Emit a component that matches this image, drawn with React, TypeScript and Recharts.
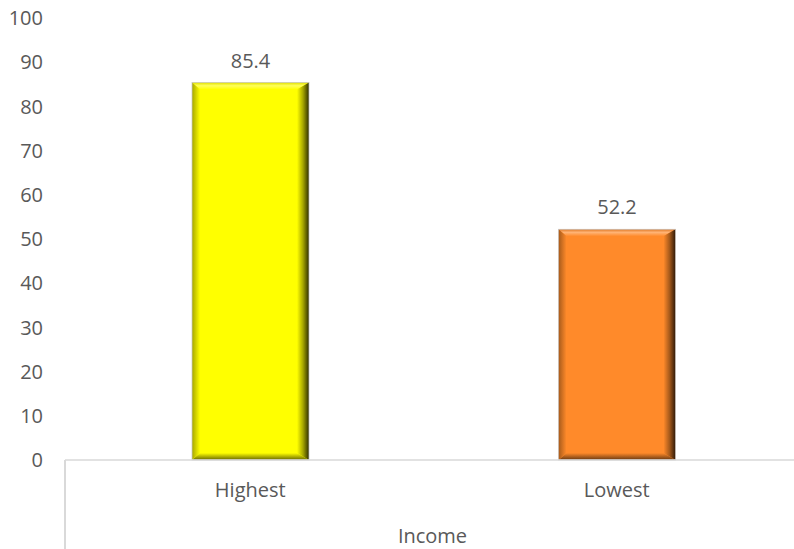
import React from 'react';
import { BarChart, Bar, XAxis, YAxis, LabelList, Cell } from 'recharts';

// Share (%) by income group
const categories = ['Highest', 'Lowest'];
const values = [85.4, 52.2];
const yTicks = [0, 10, 20, 30, 40, 50, 60, 70, 80, 90, 100];
const axisTitle = 'Income';

const barColors = ['#FFFF00', '#FF8A2A'];

const data = categories.map((name, i) => ({ name, value: values[i] }));

const CHART_W = 800;
const CHART_H = 549;
const Y_AXIS_W = 65;
const X_AXIS_H = 89;
const TOP = 18;
const FONT = "'Open Sans', 'Liberation Sans', sans-serif";
const TEXT = '#595959';
const LINE = '#d9d9d9';

function mix(hex: string, target: string, t: number) {
  const a = parseInt(hex.slice(1), 16);
  const b = parseInt(target.slice(1), 16);
  const ch = (v: number, s: number) => (v >> s) & 255;
  const r = Math.round(ch(a, 16) + (ch(b, 16) - ch(a, 16)) * t);
  const g = Math.round(ch(a, 8) + (ch(b, 8) - ch(a, 8)) * t);
  const bl = Math.round(ch(a, 0) + (ch(b, 0) - ch(a, 0)) * t);
  return `rgb(${r},${g},${bl})`;
}

// Bar drawn with an angled bevel: lit top, shaded sides and bottom
const BevelBar = (props: any) => {
  const { x, y, width: w, height: h, index } = props;
  if (!h || h <= 0) return null;
  const base = barColors[index % barColors.length];
  const bl = 8, br = 12, bt = 7, bb = 7;
  const id = `bev${index}`;
  return (
    <g>
      <defs>
        <linearGradient id={`${id}t`} x1="0" y1="0" x2="0" y2="1">
          <stop offset="0" stopColor={mix(base, '#000000', 0.12)} />
          <stop offset="0.45" stopColor={mix(base, '#ffffff', 0.35)} />
          <stop offset="1" stopColor={base} />
        </linearGradient>
        <linearGradient id={`${id}l`} x1="0" y1="0" x2="1" y2="0">
          <stop offset="0" stopColor={mix(base, '#000000', 0.35)} />
          <stop offset="1" stopColor={base} />
        </linearGradient>
        <linearGradient id={`${id}r`} x1="0" y1="0" x2="1" y2="0">
          <stop offset="0" stopColor={base} />
          <stop offset="0.5" stopColor={mix(base, '#000000', 0.35)} />
          <stop offset="1" stopColor={mix(base, '#000000', 0.82)} />
        </linearGradient>
        <linearGradient id={`${id}b`} x1="0" y1="0" x2="0" y2="1">
          <stop offset="0" stopColor={base} />
          <stop offset="1" stopColor={mix(base, '#000000', 0.6)} />
        </linearGradient>
      </defs>
      <rect x={x} y={y} width={w} height={h} fill={base} />
      <polygon
        points={`${x},${y} ${x + w},${y} ${x + w - br},${y + bt} ${x + bl},${y + bt}`}
        fill={`url(#${id}t)`}
      />
      <polygon
        points={`${x},${y + h} ${x + w},${y + h} ${x + w - br},${y + h - bb} ${x + bl},${y + h - bb}`}
        fill={`url(#${id}b)`}
      />
      <polygon
        points={`${x},${y} ${x + bl},${y + bt} ${x + bl},${y + h - bb} ${x},${y + h}`}
        fill={`url(#${id}l)`}
      />
      <polygon
        points={`${x + w},${y} ${x + w},${y + h} ${x + w - br},${y + h - bb} ${x + w - br},${y + bt}`}
        fill={`url(#${id}r)`}
      />
      <rect x={x} y={y} width={w} height={h} fill="none" stroke="#c8c8c8" strokeWidth={0.75} />
    </g>
  );
};

export default function App() {
  return (
    <div
      style={{
        position: 'absolute',
        left: 0,
        top: 0,
        width: 794,
        height: CHART_H,
        overflow: 'hidden',
        background: '#ffffff',
      }}
    >
      <BarChart
        width={CHART_W}
        height={CHART_H}
        data={data}
        margin={{ top: TOP, right: 0, bottom: 0, left: 0 }}
        barSize={117}
      >
        <YAxis
          width={Y_AXIS_W}
          domain={[0, 100]}
          ticks={yTicks}
          interval={0}
          axisLine={false}
          tickLine={false}
          tickSize={0}
          tickMargin={22}
          tick={{ fill: TEXT, fontSize: 20, fontFamily: FONT }}
        />
        <XAxis
          dataKey="name"
          height={X_AXIS_H}
          padding={{ left: 2, right: 0 }}
          axisLine={{ stroke: LINE, strokeWidth: 1.5 }}
          tickLine={false}
          tickSize={0}
          tickMargin={23}
          tick={{ fill: TEXT, fontSize: 20, fontFamily: FONT }}
          label={{
            value: axisTitle,
            position: 'insideBottom',
            offset: 6,
            fill: TEXT,
            fontSize: 20,
            fontFamily: FONT,
          }}
        />
        <Bar dataKey="value" isAnimationActive={false} shape={<BevelBar />}>
          {data.map((d, i) => (
            <Cell key={d.name} fill={barColors[i]} />
          ))}
          <LabelList
            dataKey="value"
            position="top"
            offset={15}
            fill={TEXT}
            fontSize={20}
            fontFamily={FONT}
          />
        </Bar>
      </BarChart>
      {/* left boundary of the category axis band */}
      <div
        style={{
          position: 'absolute',
          left: Y_AXIS_W - 1,
          top: CHART_H - X_AXIS_H,
          width: 1.5,
          height: X_AXIS_H,
          background: LINE,
        }}
      />
    </div>
  );
}
